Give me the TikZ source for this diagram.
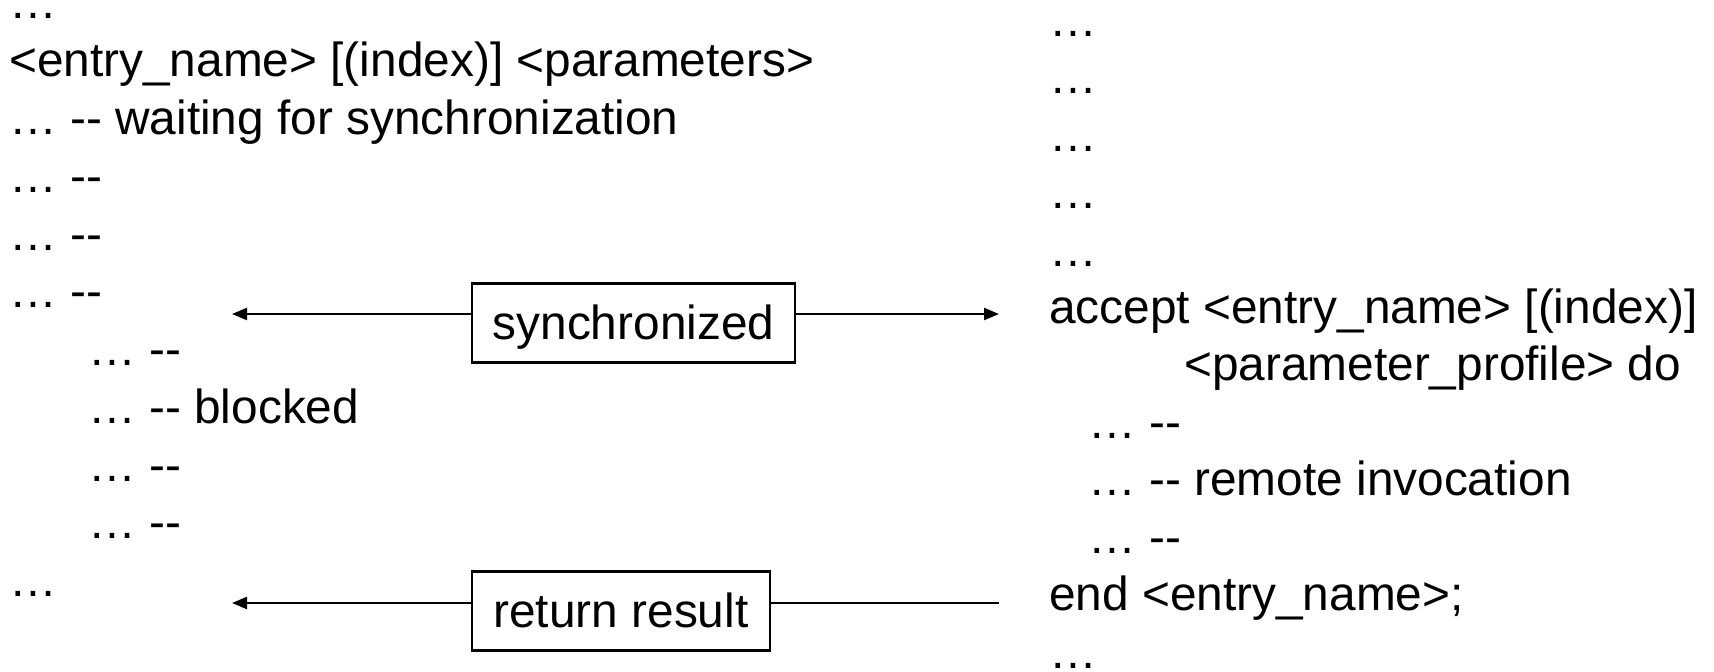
\documentclass[tikz,border=0pt]{standalone}
\usepackage{fontspec}
\newfontfamily\codefont{Liberation Sans}
\usetikzlibrary{arrows.meta}
\begin{document}
\begin{tikzpicture}[x=1pt,y=-1pt,
  codeline/.style={anchor=base west, inner sep=0pt,
    font=\codefont\fontsize{47.8}{57}\selectfont},
  msgbox/.style={draw, line width=2.6pt, inner sep=0pt,
    minimum height=79pt, text height=38pt, text depth=6pt,
    font=\codefont\fontsize{47.8}{57}\selectfont},
  conn/.style={line width=2.3pt},
  arrowend/.style={-{Triangle[length=15pt,width=12pt]}}
]
\useasboundingbox (0,0) rectangle (1714,672);

% caller side
\node[codeline] (l1)  at (9,18)   {…};
\node[codeline] (l2)  at (9,76)   {<entry\_name> [(index)] <parameters>};
\node[codeline] (l3)  at (9,134)  {… -- waiting for synchronization};
\node[codeline] (l4)  at (9,192)  {… --};
\node[codeline] (l5)  at (9,250)  {… --};
\node[codeline] (l6)  at (9,307)  {… --};
\node[codeline] (l7)  at (88,365) {… --};
\node[codeline] (l8)  at (88,423) {… -- blocked};
\node[codeline] (l9)  at (88,481) {… --};
\node[codeline] (l10) at (88,538) {… --};
\node[codeline] (l11) at (9,596)  {…};

% callee side
\node[codeline] (r1)  at (1049,36)  {…};
\node[codeline] (r2)  at (1049,93)  {…};
\node[codeline] (r3)  at (1049,151) {…};
\node[codeline] (r4)  at (1049,208) {…};
\node[codeline] (r5)  at (1049,266) {…};
\node[codeline] (r6)  at (1049,323) {accept <entry\_name> [(index)]};
\node[codeline] (r7)  at (1184,380) {<parameter\_profile> do};
\node[codeline] (r8)  at (1088,438) {… --};
\node[codeline] (r9)  at (1088,495) {… -- remote invocation};
\node[codeline] (r10) at (1088,553) {… --};
\node[codeline] (r11) at (1049,610) {end <entry\_name>;};
\node[codeline] (r12) at (1049,668) {…};

% messages
\node[msgbox, minimum width=323pt] (sync) at (633.5,323) {synchronized};
\node[msgbox, minimum width=298pt] (ret)  at (621,611)   {return result};

\coordinate (sL) at (232,314);
\coordinate (sR) at (999,314);
\coordinate (rL) at (232,603);
\coordinate (rR) at (999,603);

\draw[conn,arrowend] (sync.west |- sL) -- (sL);
\draw[conn,arrowend] (sync.east |- sR) -- (sR);
\draw[conn,arrowend] (ret.west |- rL) -- (rL);
\draw[conn] (rR) -- (ret.east |- rR);
\end{tikzpicture}
\end{document}
